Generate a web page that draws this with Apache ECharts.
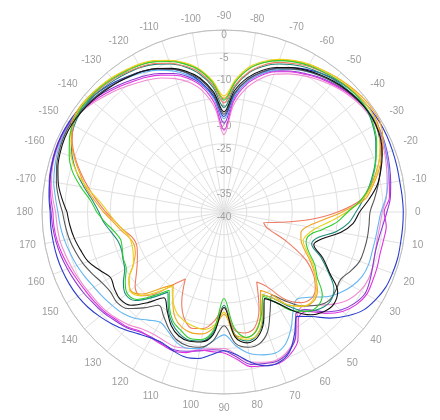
<!DOCTYPE html>
<html>
<head>
<meta charset="utf-8">
<script src="https://cdn.jsdelivr.net/npm/echarts@6/dist/echarts.min.js"></script>
<style>
  html, body { margin: 0; padding: 0; background: #ffffff; }
  #chart { width: 440px; height: 420px; }
</style>
</head>
<body>
<div id="chart"></div>
<script>
// Measurement angles, degrees (0 = right, clockwise positive)
const angles = [];
for (let a = -180; a <= 180; a += 5) angles.push(a);

// Radial scale (dB)
const radiusMin = -40;
const radiusMax = 0;
const radiusStep = 5;

// Gain patterns in dB, one value per angle above
const green = [
  -12, -10.5, -8, -5.5, -3.8, -2.5, -1.6, -1.2, -1.2, -1.4, -1.8, -2.3,
  -2.8, -3.6, -4.8, -6.3, -8.3, -11.5, -15.4, -11.3, -8, -6, -4.6, -3.6,
  -2.8, -2.3, -1.8, -1.4, -1.2, -1.3, -2, -3, -4.4, -5.8, -7.5, -9.8,
  -12.8, -15, -18, -20.5, -20.8, -19.5, -17, -15, -11.8, -10.8, -11.5, -13.5,
  -17, -19.5, -16, -12.8, -12, -14.5, -21, -14, -11.5, -11.2, -12.3, -13.5,
  -16, -19, -16, -12.8, -12.2, -13.5, -15.2, -15.6, -16.2, -16.5, -15.5, -13.8,
  -12
];
const yellow = [
  -14.5, -12.5, -9.5, -6.5, -4.2, -2.6, -1.5, -1, -1, -1.2, -1.5, -2,
  -2.5, -3.3, -4.5, -6, -8, -11, -14.5, -10.8, -7.6, -5.7, -4.3, -3.3,
  -2.5, -2, -1.5, -1.1, -0.9, -0.8, -1.2, -2.2, -3.6, -5.2, -7, -9.5,
  -13, -16.5, -19.5, -21, -21.5, -20, -17.5, -15.5, -13.5, -12.5, -13, -15,
  -18, -20, -15.5, -12, -11.6, -12.5, -18, -15, -13.8, -14, -14.5, -15.5,
  -17.5, -20, -17, -14, -13, -14.5, -17, -18, -18.5, -18.5, -17.5, -16,
  -14.5
];
const orange = [
  -13.5, -11.5, -9.2, -7.2, -5, -3, -1.3, -0.8, -0.9, -1.2, -1.6, -2.1,
  -2.7, -3.5, -4.6, -6.2, -8.2, -11.3, -15, -11.2, -8, -6, -4.5, -3.5,
  -2.6, -2, -1.4, -0.9, -0.5, -0.3, -0.4, -1.5, -3, -4.8, -6.8, -9,
  -14, -18.5, -21.5, -22.5, -22, -20.5, -18, -15.5, -13.2, -12.2, -13, -15,
  -19, -21, -16.5, -13, -12, -13, -17.5, -14.5, -12.8, -12.5, -13, -14.5,
  -17.5, -20.5, -18, -14.5, -13.2, -14.5, -17, -18.5, -19, -18.4, -17, -15.5,
  -13.5
];
const red = [
  -14, -12, -9.8, -7.5, -5.2, -3.2, -1.8, -1.2, -1.3, -1.6, -2, -2.6,
  -3.2, -4, -5.2, -6.8, -8.8, -12, -16, -12, -8.8, -6.6, -5, -4,
  -3, -2.4, -1.8, -1.3, -0.9, -0.8, -1, -2, -3.5, -5.3, -7.3, -9.8,
  -15, -21, -27, -31, -30, -25, -19.5, -16, -13.8, -13, -14, -16.5,
  -21, -23, -17.5, -13.8, -13, -14, -19, -16, -14, -13.5, -14.8, -18,
  -23, -20.5, -16.5, -14, -14.5, -16.5, -18, -19, -19.5, -19, -17.5, -16,
  -14
];
const black = [
  -5.5, -4.2, -3, -2.2, -1.7, -1.4, -1.4, -1.7, -2.1, -2.6, -3.1, -3.7,
  -4.3, -5.2, -6.4, -8, -10.2, -13.5, -18, -13.2, -10, -7.8, -6.2, -5,
  -4, -3.2, -2.5, -2, -1.6, -1.4, -1.5, -2, -3, -4.3, -5.8, -8,
  -10.2, -11.5, -14, -17.5, -19, -16, -13.2, -9.5, -8.5, -9, -10.5, -13.5,
  -17, -19, -14.5, -11.5, -10.8, -12.5, -19, -13, -11, -10.6, -11, -12.5,
  -15, -17, -14, -11, -10.2, -10.6, -11.2, -9.8, -8.2, -7.4, -6.6, -6,
  -5.5
];
const darkGray = [
  -4.5, -3.5, -2.6, -1.9, -1.4, -1.1, -1.1, -1.4, -1.9, -2.4, -3, -3.6,
  -4.3, -5.3, -6.6, -8.3, -10.5, -14, -18.5, -13.8, -10.5, -8.2, -6.5, -5.3,
  -4.2, -3.4, -2.7, -2.1, -1.7, -1.4, -1.5, -2.2, -3.2, -4.4, -5.6, -6.8,
  -7.9, -8, -8, -8.1, -8.3, -9.3, -10.4, -10, -9.8, -11, -13, -16,
  -19, -16, -12, -10, -9.8, -11, -15, -11.5, -9.8, -9.5, -10, -11.5,
  -13.5, -15, -12.5, -10, -9.2, -9.5, -9, -8, -7, -6.2, -5.5, -5,
  -4.5
];
const blue = [
  -1.8, -1.4, -1.1, -0.8, -0.6, -0.5, -0.6, -0.9, -1.4, -2, -2.7, -3.5,
  -4.3, -5.3, -6.6, -8.4, -11, -14.5, -19, -14, -10.5, -8.2, -6.4, -5,
  -3.8, -2.8, -2, -1.4, -1, -0.7, -0.5, -0.5, -0.6, -0.7, -0.8, -0.7,
  -0.6, -0.6, -0.6, -0.5, -0.6, -0.8, -1.5, -2.5, -4.5, -7, -10, -12,
  -9, -6, -4.8, -5, -6.5, -8.5, -9.5, -8.5, -7.3, -7, -7.5, -8.2,
  -8, -7.3, -6.2, -5.2, -4.3, -3.5, -2.9, -2.5, -2.2, -2, -1.9, -1.8,
  -1.8
];
const magenta = [
  -2.4, -1.8, -1.2, -0.8, -0.6, -0.6, -0.9, -1.5, -2.3, -3.2, -4.1, -5,
  -5.8, -6.8, -8, -9.6, -12, -16, -22, -15.5, -11.5, -9, -7.2, -6,
  -5, -4, -3.2, -2.4, -1.8, -1.4, -1.3, -1.6, -2.1, -2.6, -3.1, -3.5,
  -4.8, -4.2, -4.4, -4.5, -4.2, -4, -3.8, -4.5, -6, -8.5, -11.5, -11.5,
  -7.5, -5.5, -4.6, -5, -5.5, -7.5, -9, -9.2, -9.2, -8, -7.5, -7.8,
  -8, -8, -7, -6.5, -5.8, -5.4, -5, -4.5, -3.9, -3.3, -2.8, -2.5,
  -2.4
];
const purple = [
  -2, -1.5, -1, -0.7, -0.5, -0.5, -0.8, -1.3, -2, -2.8, -3.7, -4.6,
  -5.4, -6.4, -7.6, -9.2, -11.5, -15, -20.5, -14.8, -11, -8.6, -7, -5.8,
  -4.8, -3.8, -3, -2.3, -1.7, -1.3, -1.2, -1.4, -1.8, -2.3, -2.8, -3.3,
  -4.2, -5, -5.5, -5.6, -5.2, -4.6, -4.2, -5, -6.5, -9, -12, -12.5,
  -8.5, -6.2, -5.2, -5.5, -6, -8, -9.5, -9.6, -9, -8.3, -7.8, -8,
  -8.2, -7.8, -6.8, -6.2, -5.5, -5, -4.4, -3.9, -3.4, -2.9, -2.5, -2.2,
  -2
];
const cyan = [
  -3.5, -2.8, -2, -1.5, -1.1, -0.9, -1, -1.3, -1.8, -2.4, -3, -3.8,
  -4.6, -5.6, -7, -8.8, -11.3, -15, -19.5, -14.5, -11, -8.6, -6.8, -5.4,
  -4.3, -3.4, -2.6, -2, -1.6, -1.3, -1.2, -1.5, -2, -2.6, -3.4, -4.3,
  -5.5, -6, -6.2, -6.3, -6.2, -6.5, -7.5, -9, -11, -13.5, -15, -13.5,
  -10.5, -8, -7, -7.5, -8.5, -10.5, -13, -11.5, -9.5, -9, -9.5, -11,
  -12, -11, -9.5, -8.5, -8, -7.5, -7, -6.3, -5.6, -5, -4.4, -3.9,
  -3.5
];
const teal = [
  -12.5, -11, -8.8, -6.5, -4.5, -3, -2, -1.6, -1.6, -1.9, -2.3, -2.8,
  -3.3, -4.2, -5.4, -7, -9.2, -12.5, -17, -12.4, -9, -6.9, -5.4, -4.3,
  -3.4, -2.8, -2.2, -1.8, -1.5, -1.5, -2.2, -3.2, -4.5, -6, -7.6, -9.3,
  -11, -12.5, -15, -18.5, -19.5, -16.5, -13.5, -10.5, -9.5, -10, -11.5, -14.5,
  -18, -20, -15, -12, -11.2, -13, -19.5, -13.5, -11.2, -10.8, -11.5, -13,
  -15.5, -18.5, -15.5, -12.5, -11.8, -13, -14.8, -15.5, -16, -15.8, -14.8, -13.5,
  -12.5
];
const pink = [
  -3, -2.2, -1.5, -1, -0.8, -0.8, -1.1, -1.7, -2.6, -3.6, -4.6, -5.6,
  -6.5, -7.5, -8.8, -10.5, -13, -17, -23, -16.5, -12.5, -9.8, -7.8, -6.5,
  -5.4, -4.4, -3.5, -2.7, -2.1, -1.7, -1.6, -1.9, -2.4, -3, -3.6, -4.2,
  -5.2, -5.6, -5.8, -5.6, -5.2, -5, -5.4, -6.5, -8.5, -11, -13, -12,
  -8.5, -6.5, -5.5, -5.8, -6.5, -8.5, -10, -9.8, -9.5, -9, -8.5, -8.8,
  -9, -8.6, -7.6, -6.8, -6.2, -5.8, -5.4, -4.9, -4.4, -3.9, -3.4, -3.2,
  -3
];

const seriesList = [
  { name: 'pink', color: '#f08ad2', values: pink },
  { name: 'purple', color: '#8c3cd2', values: purple },
  { name: 'magenta', color: '#e032e0', values: magenta },
  { name: 'cyan', color: '#62b6f2', values: cyan },
  { name: 'blue', color: '#2a3ccc', values: blue },
  { name: 'darkGray', color: '#555555', values: darkGray },
  { name: 'teal', color: '#1d8c7c', values: teal },
  { name: 'red', color: '#f07a62', values: red },
  { name: 'orange', color: '#f2a21e', values: orange },
  { name: 'yellow', color: '#e8d21c', values: yellow },
  { name: 'green', color: '#2ecc2e', values: green },
  { name: 'black', color: '#111111', values: black }
];

// The angle axis runs from -90 (top) clockwise through 270; angles below -90
// are wrapped into the 180..270 range so every pattern stays continuous.
function toAxisAngle(a) { return a < -90 ? a + 360 : a; }

const chart = echarts.init(document.getElementById('chart'), null, { renderer: 'canvas' });

chart.setOption({
  animation: false,
  backgroundColor: '#ffffff',
  polar: { center: [224, 212], radius: 182 },
  angleAxis: {
    type: 'value',
    min: -90,
    max: 270,
    interval: 10,
    startAngle: 90,
    clockwise: true,
    axisLine: { show: true, lineStyle: { color: '#bdbdbd', width: 1 } },
    axisTick: { show: false },
    axisLabel: {
      color: '#9c9c9c',
      fontSize: 10,
      fontFamily: 'Liberation Sans, Arial, sans-serif',
      margin: 9,
      formatter: function (v) {
        if (v >= 270) return '';
        return String(v > 180 ? v - 360 : v);
      }
    },
    splitLine: { show: true, lineStyle: { color: '#e0e0e0', width: 1 } }
  },
  radiusAxis: {
    type: 'value',
    min: radiusMin,
    max: radiusMax,
    interval: radiusStep,
    axisLine: { show: false },
    axisTick: { show: false },
    axisLabel: {
      color: '#a0a0a0',
      fontSize: 10,
      fontFamily: 'Liberation Sans, Arial, sans-serif',
      margin: 0,
      align: 'center',
      verticalAlign: 'top'
    },
    splitLine: { show: true, lineStyle: { color: '#e0e0e0', width: 1 } }
  },
  series: seriesList.map(function (s) {
    return {
      type: 'line',
      coordinateSystem: 'polar',
      name: s.name,
      showSymbol: false,
      smooth: 0.35,
      lineStyle: { color: s.color, width: 1.1 },
      data: angles.map(function (a, i) { return [s.values[i], toAxisAngle(a)]; })
    };
  })
});
</script>
</body>
</html>
